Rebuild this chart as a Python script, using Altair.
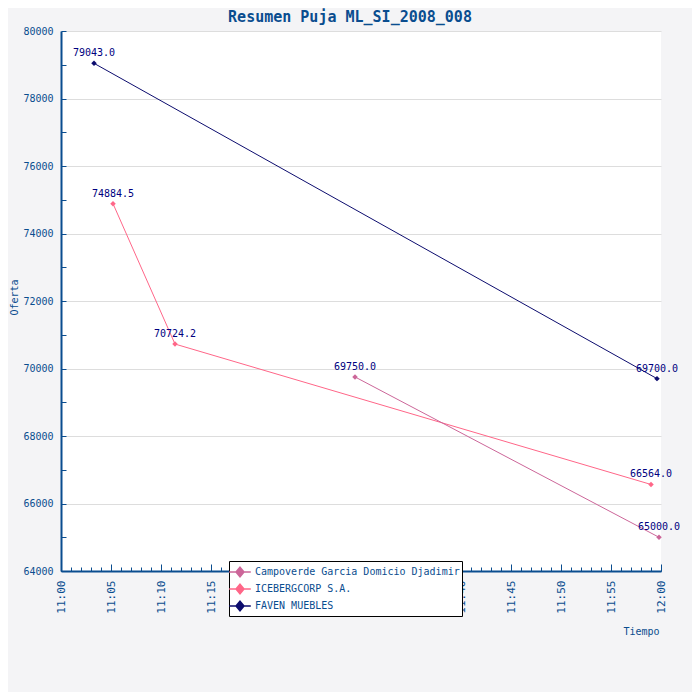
import altair as alt
import pandas as pd

series = ["FAVEN MUEBLES", "FAVEN MUEBLES",
          "ICEBERGCORP S.A.", "ICEBERGCORP S.A.", "ICEBERGCORP S.A.",
          "Campoverde Garcia Domicio Djadimir", "Campoverde Garcia Domicio Djadimir"]
minutes = [3.3, 59.6, 5.2, 11.4, 59.0, 29.4, 59.8]
values = [79043.0, 69700.0, 74884.5, 70724.2, 66564.0, 69750.0, 65000.0]

legend_order = ["Campoverde Garcia Domicio Djadimir", "ICEBERGCORP S.A.", "FAVEN MUEBLES"]
legend_colors = ["#cc6699", "#ff6688", "#0c0c6e"]

df = pd.DataFrame({"serie": series, "min": minutes, "oferta": values})

FONT = "DejaVu Sans Mono"
BLUE = "#0a4d8f"
NAVY = "#000080"

xscale = alt.Scale(domain=[0, 60], nice=False, zero=False)
yscale = alt.Scale(domain=[64000, 80000], nice=False, zero=False)
cscale = alt.Scale(domain=legend_order, range=legend_colors)

label_expr = "datum.value == 60 ? '12:00' : '11:' + (datum.value < 10 ? '0' : '') + datum.value"

sym = "M-1.35,0L1.35,0M0,-0.6L0.5,0L0,0.6L-0.5,0Z"

base = alt.Chart(df)

lines = base.mark_line(strokeWidth=1).encode(
    x=alt.X("min:Q", scale=xscale,
            axis=alt.Axis(orient="bottom", values=list(range(0, 61, 5)), labelExpr=label_expr,
                          labelAngle=-90, labelAlign="right", labelBaseline="middle",
                          labelPadding=9, labelFont=FONT, labelFontSize=11, labelColor=BLUE,
                          ticks=False, grid=False, domainColor=BLUE, domainWidth=2,
                          title="Tiempo", titleFont=FONT, titleFontSize=10, titleFontWeight="normal",
                          titleColor=BLUE, titleX=598, titleY=60, titleAlign="right",
                          titleBaseline="middle")),
    y=alt.Y("oferta:Q", scale=yscale,
            axis=alt.Axis(orient="left", values=list(range(64000, 80001, 2000)), format="d",
                          labelFont=FONT, labelFontSize=10, labelColor=BLUE, labelPadding=8,
                          ticks=False, grid=True, gridColor="#dddddd", gridWidth=1,
                          domainColor=BLUE, domainWidth=2,
                          title="Oferta", titleFont=FONT, titleFontSize=10, titleFontWeight="normal",
                          titleColor=BLUE, titleX=-47, titleY=266, titleAngle=-90,
                          titleAlign="center", titleBaseline="middle")),
    color=alt.Color("serie:N", scale=cscale, sort=legend_order,
                    legend=alt.Legend(title=None, orient="none", legendX=168, legendY=530,
                                      symbolType=sym, symbolSize=256, symbolStrokeWidth=1.5,
                                      labelFont=FONT, labelFontSize=10, labelColor=BLUE,
                                      labelExpr="datum.label + '\u2007\u2007'", labelOffset=6,
                                      fillColor="white", strokeColor="black", padding=2,
                                      rowPadding=0, labelLimit=400)),
    detail="serie:N",
)

points = base.mark_point(shape="diamond", filled=True, size=30, opacity=1).encode(
    x=alt.X("min:Q", scale=xscale,
            axis=alt.Axis(orient="bottom", values=list(range(0, 61, 5)), labels=False,
                          domain=False, grid=False, ticks=True, tickSize=7, tickColor=BLUE,
                          offset=-7, title=None)),
    y=alt.Y("oferta:Q", scale=yscale,
            axis=alt.Axis(orient="left", values=list(range(64000, 80001, 1000)), labels=False,
                          domain=False, grid=False, ticks=True, tickSize=5, tickColor=BLUE,
                          offset=-5, title=None)),
    color=alt.Color("serie:N", scale=cscale, sort=legend_order, legend=None),
)

texts = base.mark_text(font=FONT, fontSize=10, color=NAVY, baseline="bottom", dy=-5,
                       align="center", clip=False).encode(
    x=alt.X("min:Q", scale=xscale,
            axis=alt.Axis(orient="bottom", values=list(range(0, 61, 1)), labels=False,
                          domain=False, grid=False, ticks=True, tickSize=4, tickColor=BLUE,
                          offset=-4, title=None)),
    y=alt.Y("oferta:Q", scale=yscale, axis=None),
    text=alt.Text("oferta:Q", format=".1f"),
)

chart = alt.layer(lines, points, texts).resolve_axis(x="independent", y="independent").properties(
    width=600, height=540,
    background="#f4f4f6",
    autosize=alt.AutoSizeParams(type="none"),
    padding={"left": 53, "top": 23, "right": 31, "bottom": 121},
    title=alt.Title("Resumen Puja ML_SI_2008_008", font=FONT, fontSize=15, fontWeight="bold",
                    color=BLUE, anchor="middle", dx=-11, offset=1),
).configure_view(fill="white", stroke=None)

chart.save("out.html", embed_options={"renderer": "svg", "actions": False})
